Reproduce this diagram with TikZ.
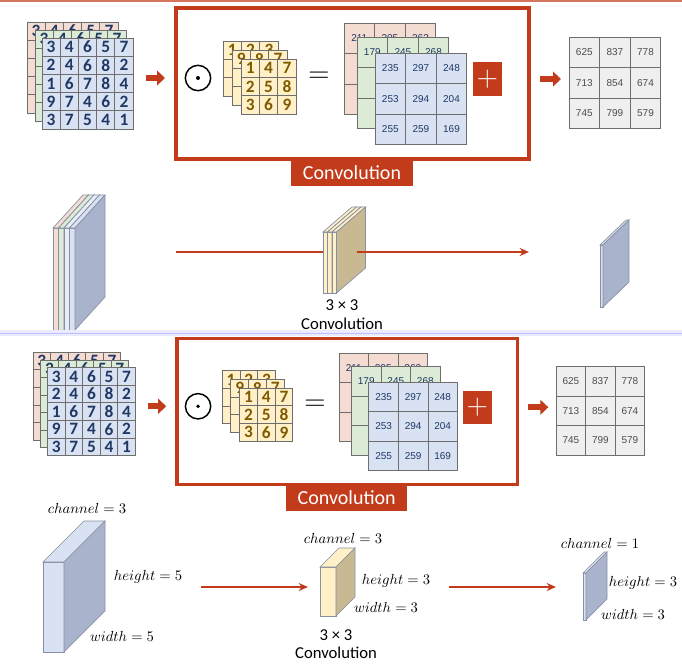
\documentclass[tikz,border=0pt]{standalone}
\usepackage{fontspec}
\newfontfamily\cf{Carlito}
\newfontfamily\af{Liberation Sans}
\usetikzlibrary{arrows.meta}
\definecolor{cred}{HTML}{C23B1A}
\definecolor{mred}{HTML}{F5DCD3}
\definecolor{mgreen}{HTML}{DCEBD5}
\definecolor{mblue}{HTML}{D9E2F3}
\definecolor{myel}{HTML}{FFF0C8}
\definecolor{mgray}{HTML}{EFEFEF}
\definecolor{nblue}{HTML}{1F3864}
\definecolor{nbrown}{HTML}{7F5A00}
\definecolor{sblue}{HTML}{A9B3CB}
\definecolor{stan}{HTML}{C9B993}
\definecolor{gline}{HTML}{6E6E6E}
\tikzset{
 cellbox/.style={draw=gline,line width=0.6pt},
 inum/.style={font=\cf\bfseries\fontsize{13}{13}\selectfont,text=nblue,inner sep=0pt},
 knum/.style={font=\cf\bfseries\fontsize{13}{13}\selectfont,text=nbrown,inner sep=0pt},
 rnum/.style={font=\af\fontsize{7.5}{8}\selectfont,text=nblue,inner sep=0pt},
 onum/.style={font=\af\fontsize{7.5}{8}\selectfont,text=black!70,inner sep=0pt},
 redarrow/.style={draw=cred,line width=1.3pt,-{Stealth[length=7pt,width=6pt]}},
 fatarrow/.style={draw=cred,line width=4.5pt,-{Triangle[length=6pt,width=11pt]}},
 slabline/.style={draw=sblue!80!black,line width=0.5pt},
 lbl/.style={font=\fontsize{10.5}{11}\selectfont,inner sep=1pt},
 clbl/.style={font=\cf\fontsize{12.5}{13}\selectfont,inner sep=1pt},
 convlbl/.style={fill=cred,text=white,font=\cf\fontsize{15}{15}\selectfont,inner sep=0pt,minimum width=91pt,minimum height=19pt},
}
% #1 x, #2 y, #3 cell, #4 fill, #5 text style, #6 rows
\newcommand\mtx[6]{%
 \foreach \rw [count=\i] in {#6}{%
  \foreach \v [count=\j] in \rw{%
   \draw[cellbox,fill=#4] ({#1+(\j-1)*#3},{#2+(\i-1)*#3}) rectangle ++(#3,#3);
   \node[#5] at ({#1+(\j-0.5)*#3},{#2+(\i-0.5)*#3}) {\v};
  }}}
% slab: #1 x, #2 ytop, #3 w, #4 h, #5 dx, #6 dy, #7 front, #8 side
\newcommand\slab[8]{%
 \draw[slabline,fill=#7] (#1,#2) rectangle ({#1+#3},{#2+#4});
 \draw[slabline,fill=#7] (#1,#2) -- ({#1+#5},{#2+#6}) -- ({#1+#3+#5},{#2+#6}) -- ({#1+#3},#2) -- cycle;
 \draw[slabline,fill=#8] ({#1+#3},#2) -- ({#1+#3+#5},{#2+#6}) -- ({#1+#3+#5},{#2+#4+#6}) -- ({#1+#3},{#2+#4}) -- cycle;}
\newcommand\slidemats{%
 \mtx{27}{22}{18.2}{mred}{inum}{{3,4,6,5,7},{,,,,},{,,,,},{,,,,},{,,,,}}
 \mtx{35}{30}{18.2}{mgreen}{inum}{{3,4,6,5,7},{,,,,},{,,,,},{,,,,},{,,,,}}
 \mtx{42}{38}{18.2}{mblue}{inum}{{3,4,6,5,7},{2,4,6,8,2},{1,6,7,8,4},{9,7,4,6,2},{3,7,5,4,1}}
 \coordinate (a1s) at (146,78); \coordinate (a1e) at (165,78);
 \draw[fatarrow] (a1s) -- (a1e);
 \draw[cred,line width=2.6pt] (176,8) rectangle (529,159);
 \node[convlbl] (conv) at (352,173) {Convolution};
 \node[draw,circle,line width=1.1pt,minimum size=19pt,inner sep=0pt] (odot) at (198,78) {};
 \fill (odot.center) circle (1.5pt);
 \mtx{223}{41}{18.4}{myel}{knum}{{1,2,3},{,,},{,,}}
 \mtx{232}{50}{18.4}{myel}{knum}{{9,8,7},{,,},{,,}}
 \mtx{241}{59}{18.4}{myel}{knum}{{1,4,7},{2,5,8},{3,6,9}}
 \node[font=\fontsize{22}{22}\selectfont] (eq) at (319,77) {=};
 \mtx{344}{23}{30.6}{mred}{rnum}{{211,205,262},{,,},{,,}}
 \mtx{357}{37}{30.6}{mgreen}{rnum}{{179,245,268},{,,},{,,}}
 \mtx{375}{53}{30.6}{mblue}{rnum}{{235,297,248},{253,294,204},{255,259,169}}
 \node[fill=cred,text=white,minimum width=22pt,minimum height=25pt,inner sep=0pt,font=\fontsize{22}{22}\selectfont] (plus) at (487.5,79) {+};
 \coordinate (a2s) at (540,79); \coordinate (a2e) at (561,79);
 \draw[fatarrow] (a2s) -- (a2e);
 \mtx{569}{37}{30.6}{mgray}{onum}{{625,837,778},{713,854,674},{745,799,579}}
}
\begin{document}
\begin{tikzpicture}[x=0.75pt,y=-0.75pt]
\useasboundingbox (0,0) rectangle (682,665);
\fill[white] (0,0) rectangle (682,665);
\draw[cred!70,line width=1.2pt] (0,1) -- (682,1);
% ---------- top slide ----------
\slidemats
% middle row
\foreach \k/\c/\s in {0/mred/mred,1/mgreen/mgreen,2/mblue!60/mblue!60,3/mblue/sblue}{
  \slab{53+5.5*\k}{228}{5.5}{102}{30}{-33}{\c}{\s}}
\coordinate (m1) at (176,252); \coordinate (m2) at (324,252);
\draw[cred,line width=1.3pt] (m1) -- (m2);
\foreach \k/\s in {0/myel,1/myel,2/stan}{
  \slab{323+4.5*\k}{232}{4.5}{61}{29}{-25}{myel}{\s}}
\coordinate (m3) at (357,252); \coordinate (m4) at (529,252);
\draw[redarrow] (m3) -- (m4);
\slab{600}{245}{3}{62}{26}{-25}{mblue}{sblue}
\node[clbl] (k1) at (342,305) {3 × 3};
\node[clbl] (k2) at (342,324) {Convolution};
% divider
\fill[blue!8] (0,330) rectangle (682,336);
\draw[blue!25,line width=0.6pt] (0,333) -- (682,333);
% ---------- bottom slide ----------
\begin{scope}[shift={(7,331)},scale=0.965]
\slidemats
\end{scope}
\slab{43}{562}{21}{90}{41}{-41}{mblue}{sblue}
\node[lbl] (c1) at (87,508) {$channel = 3$};
\node[lbl] (h1) at (148,577) {$height = 5$};
\node[lbl] (w1) at (122,636) {$width = 5$};
\coordinate (b1) at (201,587); \coordinate (b2) at (308,587);
\draw[redarrow] (b1) -- (b2);
\slab{320}{567}{16}{49}{19}{-19}{myel}{stan}
\node[lbl] (c2) at (343,538) {$channel = 3$};
\node[lbl] (h2) at (396,581) {$height = 3$};
\node[lbl] (w2) at (386,607) {$width = 3$};
\node[clbl] (k3) at (336,635) {3 × 3};
\node[clbl] (k4) at (336,653) {Convolution};
\coordinate (b3) at (449,587); \coordinate (b4) at (556,587);
\draw[redarrow] (b3) -- (b4);
\slab{583}{573}{3}{47}{21}{-21}{mblue}{sblue}
\node[lbl] (c3) at (600,543) {$channel = 1$};
\node[lbl] (h3) at (643,583) {$height = 3$};
\node[lbl] (w3) at (633,614) {$width = 3$};
\end{tikzpicture}
\end{document}
